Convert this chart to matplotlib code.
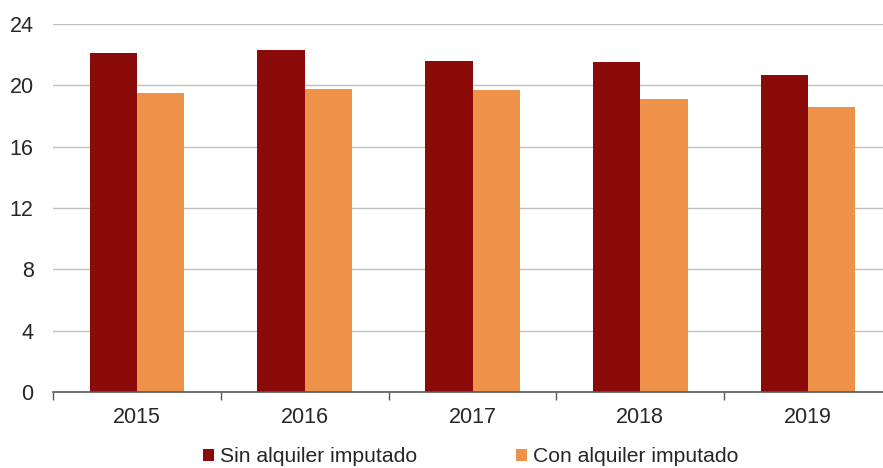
import matplotlib
matplotlib.use("Agg")
import matplotlib.pyplot as plt
import numpy as np
from matplotlib.patches import Patch

years = ["2015", "2016", "2017", "2018", "2019"]
sin_alquiler = [22.1, 22.3, 21.6, 21.5, 20.7]
con_alquiler = [19.5, 19.75, 19.7, 19.1, 18.6]
series_names = ["Sin alquiler imputado", "Con alquiler imputado"]
yticks = [0, 4, 8, 12, 16, 20, 24]

c_dark = "#8B0A0A"
c_orange = "#EE9249"

plt.rcParams['font.family'] = ['Liberation Sans', 'DejaVu Sans']

fig = plt.figure(figsize=(8.83, 4.68), dpi=100)
ax = fig.add_axes([53/883, 1-392/468, (892-53)/883, (392-24)/468])

x = np.arange(len(years))
w = 0.282
ax.bar(x - w/2, sin_alquiler, width=w, color=c_dark, zorder=3)
ax.bar(x + w/2, con_alquiler, width=w, color=c_orange, zorder=3)

ax.set_xlim(-0.5, len(years) - 0.5)
ax.set_ylim(0, 24)
ax.set_yticks(yticks)
ax.yaxis.grid(True, color="#c0c0c0", linewidth=1.0, zorder=0)
ax.tick_params(axis='y', length=0, pad=14, labelsize=15.5, labelcolor="#262626")

ax.set_xticks(x)
ax.set_xticklabels(years)
ax.set_xticks(np.arange(len(years)) - 0.5, minor=True)
ax.tick_params(axis='x', which='major', length=0, pad=11, labelsize=15.5, labelcolor="#262626")
ax.tick_params(axis='x', which='minor', length=6, width=1, color="#595959", direction='out')

for s in ['top', 'right', 'left']:
    ax.spines[s].set_visible(False)
ax.spines['bottom'].set_color("#595959")
ax.spines['bottom'].set_linewidth(1.2)
ax.spines['bottom'].set_zorder(4)

handles = [Patch(facecolor=c_dark, edgecolor='none'), Patch(facecolor=c_orange, edgecolor='none')]
fig.legend(handles, series_names, loc='center', bbox_to_anchor=(471/883, 1-457/468),
           ncol=2, frameon=False, fontsize=15.2, handlelength=0.5, handleheight=0.5,
           handletextpad=0.3, columnspacing=4.7, labelcolor="#262626",
           borderpad=0, borderaxespad=0)

fig.savefig("out.png", dpi=100)
